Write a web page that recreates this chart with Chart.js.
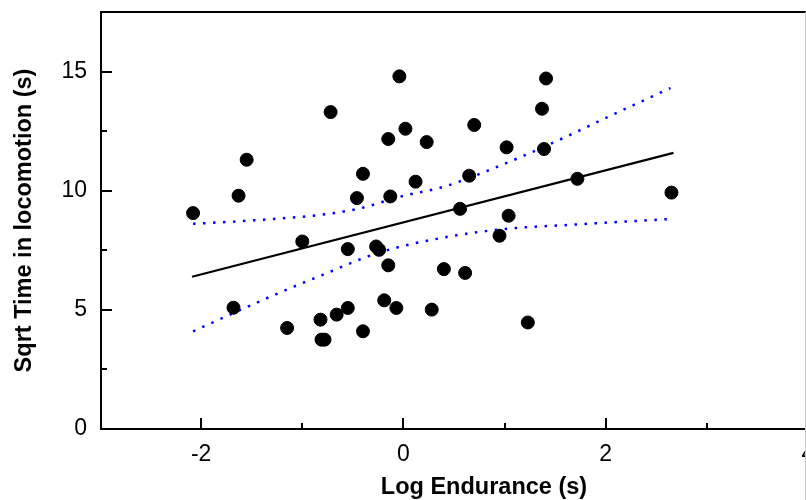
<!DOCTYPE html>
<html>
<head>
<meta charset="utf-8">
<script src="https://cdn.jsdelivr.net/npm/chart.js@4/dist/chart.umd.min.js"></script>
<style>
  html, body { margin: 0; padding: 0; background: #fff; overflow: hidden; }
  #wrap { width: 806px; height: 500px; overflow: hidden; position: relative; }
  canvas { display: block; }
</style>
</head>
<body>
<div id="wrap"><canvas id="scatterChart" width="830" height="500"></canvas></div>
<script>
// Datos: Log Endurance (x) vs Sqrt Time in locomotion (y)
const logEndurance = [-2.08, -1.68, -1.63, -1.55, -1.15, -1.00, -0.82, -0.81, -0.78, -0.72,
    -0.66, -0.55, -0.55, -0.46, -0.40, -0.40, -0.27, -0.24, -0.19, -0.15,
    -0.15, -0.13, -0.07, -0.04, 0.02, 0.12, 0.23, 0.28, 0.40, 0.56,
    0.61, 0.65, 0.70, 0.95, 1.02, 1.04, 1.23, 1.37, 1.39, 1.41,
    1.72, 2.65];
const sqrtTime = [9.06, 5.09, 9.79, 11.30, 4.24, 7.87, 4.59, 3.75, 3.75, 13.30,
    4.80, 7.55, 5.08, 9.69, 10.71, 4.10, 7.66, 7.52, 5.40, 12.17,
    6.87, 9.76, 5.08, 14.80, 12.60, 10.38, 12.04, 5.01, 6.71, 9.24,
    6.55, 10.63, 12.76, 8.11, 11.82, 8.95, 4.47, 13.44, 11.75, 14.71,
    10.50, 9.92];

// Recta de regresion (extremos)
const fitX = [-2.09, 2.67];
const fitY = [6.39, 11.59];

// Bandas de confianza (puntos leidos)
const upperX = [-2.08, -1.51, -0.82, -0.45, -0.03, 0.41, 0.69, 1.19, 1.58, 2.05, 2.64];
const upperY = [8.61, 8.75, 8.99, 9.24, 9.75, 10.18, 10.60, 11.47, 12.21, 13.15, 14.31];
const lowerX = [-2.08, -1.22, -0.82, -0.25, 0.43, 0.99, 1.65, 2.62];
const lowerY = [4.10, 5.73, 6.43, 7.39, 8.06, 8.39, 8.57, 8.81];

// Marcas de los ejes
const xTicks = [-2, 0, 2, 4];
const xMinorTicks = [-1, 1, 3];
const yTicks = [0, 5, 10, 15];
const yMinorTicks = [2.5, 7.5, 12.5];

const toPoints = (xs, ys) => xs.map((x, i) => ({ x: x, y: ys[i] }));

// Plugin para dibujar el marco, las marcas hacia dentro y los titulos
const framePlugin = {
    id: 'frame',
    afterDraw(chart) {
        const { ctx, chartArea, scales } = chart;
        const xs = scales.x, ys = scales.y;
        ctx.save();
        ctx.strokeStyle = '#000';
        ctx.lineWidth = 2;
        ctx.beginPath();
        ctx.moveTo(chartArea.left, chartArea.top);
        ctx.lineTo(chartArea.right, chartArea.top);
        ctx.moveTo(chartArea.left + 1, chartArea.top);
        ctx.lineTo(chartArea.left + 1, chartArea.bottom);
        ctx.moveTo(chartArea.left, chartArea.bottom);
        ctx.lineTo(chartArea.right, chartArea.bottom);
        // marcas eje X
        xTicks.forEach(v => {
            const px = Math.round(xs.getPixelForValue(v));
            ctx.moveTo(px, chartArea.bottom);
            ctx.lineTo(px, chartArea.bottom - 11);
        });
        xMinorTicks.forEach(v => {
            const px = Math.round(xs.getPixelForValue(v));
            ctx.moveTo(px, chartArea.bottom);
            ctx.lineTo(px, chartArea.bottom - 6);
        });
        // marcas eje Y
        yTicks.forEach(v => {
            const py = Math.round(ys.getPixelForValue(v));
            ctx.moveTo(chartArea.left, py);
            ctx.lineTo(chartArea.left + 12, py);
        });
        yMinorTicks.forEach(v => {
            const py = Math.round(ys.getPixelForValue(v));
            ctx.moveTo(chartArea.left, py);
            ctx.lineTo(chartArea.left + 7, py);
        });
        ctx.stroke();

        // borde gris a la derecha
        ctx.strokeStyle = '#c8c8c8';
        ctx.lineWidth = 1;
        ctx.beginPath();
        ctx.moveTo(805.5, chartArea.top);
        ctx.lineTo(805.5, 500);
        ctx.stroke();

        // titulos de ejes
        ctx.fillStyle = '#000';
        ctx.font = 'bold 23.5px "Liberation Sans", Arial, sans-serif';
        ctx.textAlign = 'center';
        ctx.textBaseline = 'middle';
        ctx.fillText('Log Endurance (s)', 484, 488);
        ctx.translate(25, (chartArea.top + chartArea.bottom) / 2);
        ctx.rotate(-Math.PI / 2);
        ctx.fillText('Sqrt Time in locomotion (s)', 0, 0);
        ctx.restore();
    }
};

const tickFont = { family: '"Liberation Sans", Arial, sans-serif', size: 23 };

const canvas = document.getElementById('scatterChart');
new Chart(canvas, {
    type: 'scatter',
    data: {
        datasets: [
            {
                label: 'Datos',
                data: toPoints(logEndurance, sqrtTime),
                backgroundColor: '#000',
                borderColor: '#000',
                pointRadius: 6.5,
                pointHoverRadius: 6.5,
                order: 1
            },
            {
                label: 'Ajuste',
                data: toPoints(fitX, fitY),
                showLine: true,
                borderColor: '#000',
                borderWidth: 2.2,
                pointRadius: 0,
                order: 2
            },
            {
                label: 'IC superior',
                data: toPoints(upperX, upperY),
                showLine: true,
                borderColor: '#0000ff',
                borderWidth: 2.5,
                borderDash: [2.5, 7.5],
                cubicInterpolationMode: 'monotone',
                pointRadius: 0,
                order: 3
            },
            {
                label: 'IC inferior',
                data: toPoints(lowerX, lowerY),
                showLine: true,
                borderColor: '#0000ff',
                borderWidth: 2.5,
                borderDash: [2.5, 7.5],
                cubicInterpolationMode: 'monotone',
                pointRadius: 0,
                order: 3
            }
        ]
    },
    options: {
        responsive: false,
        animation: false,
        layout: { padding: { top: 12, right: 22, left: 0, bottom: 0 } },
        plugins: {
            legend: { display: false },
            tooltip: { enabled: false }
        },
        scales: {
            x: {
                type: 'linear',
                min: -3,
                max: 4,
                afterBuildTicks: scale => { scale.ticks = xTicks.map(v => ({ value: v })); },
                afterFit: scale => {
                    scale.height = 71;
                    scale.paddingLeft = 0;
                    scale.paddingRight = 0;
                },
                grid: { display: false, drawTicks: false },
                border: { display: false },
                ticks: {
                    color: '#000',
                    padding: 12,
                    autoSkip: false,
                    maxRotation: 0,
                    font: tickFont
                }
            },
            y: {
                type: 'linear',
                min: 0,
                max: 17.5,
                afterBuildTicks: scale => { scale.ticks = yTicks.map(v => ({ value: v })); },
                afterFit: scale => {
                    scale.width = 100;
                    scale.paddingTop = 0;
                    scale.paddingBottom = 0;
                },
                grid: { display: false, drawTicks: false },
                border: { display: false },
                ticks: {
                    color: '#000',
                    padding: 13,
                    font: tickFont
                }
            }
        }
    },
    plugins: [framePlugin]
});
</script>
</body>
</html>
